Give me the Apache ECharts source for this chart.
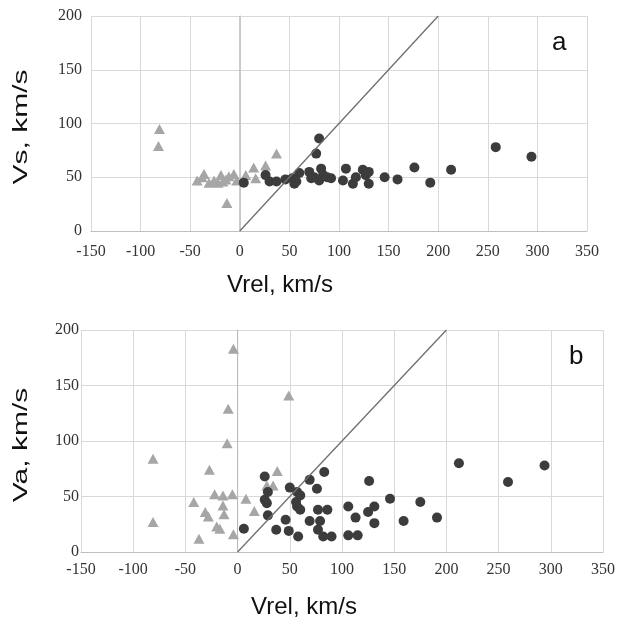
<!DOCTYPE html>
<html><head><meta charset="utf-8">
<script src="https://cdn.jsdelivr.net/npm/echarts@6/dist/echarts.min.js"></script>
<style>html,body{margin:0;padding:0;background:#fff}#c{width:618px;height:627px}</style>
</head><body><div id="c"></div>
<script>
var xTicks = [-150,-100,-50,0,50,100,150,200,250,300,350];
var yTicks = [0,50,100,150,200];
var diagLine = [[0,0],[200,200]];
// Panel a: Vs vs Vrel
var aTriangles = [[-81,95],[-82,79],[-43,47],[-38,50],[-36,53],[-31,45],[-26,47],[-22,45],[-19,52],[-17,46],[-14,48],[-11,51],[-6,53],[-3,47],[-13,26],[6,52],[14,59],[16,49],[26,61],[37,72]];
var aCircles = [[4,45],[26,52],[30,46],[37,46],[46,48],[53,49],[55,44],[57,46],[60,54],[70,55],[72,49],[75,50],[77,72],[80,86],[80,47],[82,58],[84,52],[88,50],[92,49],[104,47],[107,58],[114,44],[117,50],[124,57],[127,52],[130,55],[130,44],[146,50],[159,48],[176,59],[192,45],[213,57],[258,78],[294,69]];
// Panel b: Va vs Vrel
var bTriangles = [[-81,84],[-81,27],[-42,45],[-37,12],[-31,36],[-28,32],[-27,74],[-22,52],[-20,23],[-17,21],[-14,51],[-14,42],[-13,34],[-10,98],[-9,129],[-5,52],[-4,183],[-4,16],[8,48],[16,37],[28,60],[34,60],[38,73],[49,141]];
var bCircles = [[6,21],[26,68],[29,54],[26,47],[28,44],[29,33],[37,20],[46,29],[49,19],[50,58],[57,54],[60,51],[56,45],[57,41],[60,38],[58,14],[69,65],[76,57],[83,72],[69,28],[77,38],[86,38],[79,28],[77,20],[82,14],[90,14],[106,41],[113,31],[106,15],[115,15],[126,64],[125,36],[131,41],[131,26],[146,48],[159,28],[175,45],[191,31],[212,80],[259,63],[294,78]];

var serif = '"Liberation Serif","DejaVu Serif",serif';
var sans = '"Liberation Sans",Arial,sans-serif';
var gridColor = '#d9d9d9';
function xAx(idx, margin){
  return {type:'value', gridIndex:idx, min:xTicks[0], max:xTicks[xTicks.length-1], interval:50,
    axisLine:{show:true,onZero:false,lineStyle:{color:'#bfbfbf'}}, axisTick:{show:false},
    splitLine:{show:true,lineStyle:{color:gridColor,width:1}},
    axisLabel:{fontFamily:serif,fontSize:16,color:'#333333',margin:margin}};
}
function yAx(idx, margin){
  return {type:'value', gridIndex:idx, min:yTicks[0], max:yTicks[yTicks.length-1], interval:50,
    axisLine:{show:true,lineStyle:{color:'#d0d0d0'}}, axisTick:{show:false},
    splitLine:{show:true,lineStyle:{color:gridColor,width:1}},
    axisLabel:{fontFamily:serif,fontSize:16,color:'#333333',margin:margin}};
}
function zeroLine(idx){
  return {type:'line', xAxisIndex:idx, yAxisIndex:idx, data:[[0,0],[0,200]], symbol:'none', silent:true,
    lineStyle:{color:'#b8b8b8',width:1}, z:1};
}
function diag(idx){
  return {type:'line', xAxisIndex:idx, yAxisIndex:idx, data:diagLine, symbol:'none', silent:true,
    lineStyle:{color:'#6e6e6e',width:1.3}, z:5};
}
function tri(idx,d){
  return {type:'scatter', xAxisIndex:idx, yAxisIndex:idx, data:d, symbol:'triangle', symbolSize:[11,10],
    itemStyle:{color:'#a6a6a6',opacity:1}, z:3};
}
function circ(idx,d){
  return {type:'scatter', xAxisIndex:idx, yAxisIndex:idx, data:d, symbol:'circle', symbolSize:10,
    itemStyle:{color:'#3c3c3c',opacity:1}, z:4};
}
var chart = echarts.init(document.getElementById('c'), null, {renderer:'canvas'});
chart.setOption({
  animation:false,
  backgroundColor:'#ffffff',
  grid:[{left:91,top:16,width:496,height:215},{left:81,top:330,width:522,height:222}],
  xAxis:[xAx(0,13), xAx(1,10)],
  yAxis:[yAx(0,9), yAx(1,2)],
  series:[zeroLine(0), diag(0), tri(0,aTriangles), circ(0,aCircles),
          zeroLine(1), diag(1), tri(1,bTriangles), circ(1,bCircles)],
  graphic:[
    {type:'text', left:552, top:30, style:{text:'a', font:'26px '+sans, fill:'#111'}},
    {type:'text', left:569, top:344, style:{text:'b', font:'26px '+sans, fill:'#111'}},
    {type:'text', x:280, y:285, style:{text:'Vrel, km/s', font:'24px '+sans, fill:'#111', textAlign:'center', textVerticalAlign:'middle'}},
    {type:'text', x:304, y:607, style:{text:'Vrel, km/s', font:'24px '+sans, fill:'#111', textAlign:'center', textVerticalAlign:'middle'}},
    {type:'text', x:21, y:127, rotation:Math.PI/2, scaleX:1.5, style:{text:'Vs, km/s', font:'20px '+sans, fill:'#111', textAlign:'center', textVerticalAlign:'middle'}},
    {type:'text', x:21, y:445, rotation:Math.PI/2, scaleX:1.5, style:{text:'Va, km/s', font:'20px '+sans, fill:'#111', textAlign:'center', textVerticalAlign:'middle'}}
  ]
});
</script></body></html>
